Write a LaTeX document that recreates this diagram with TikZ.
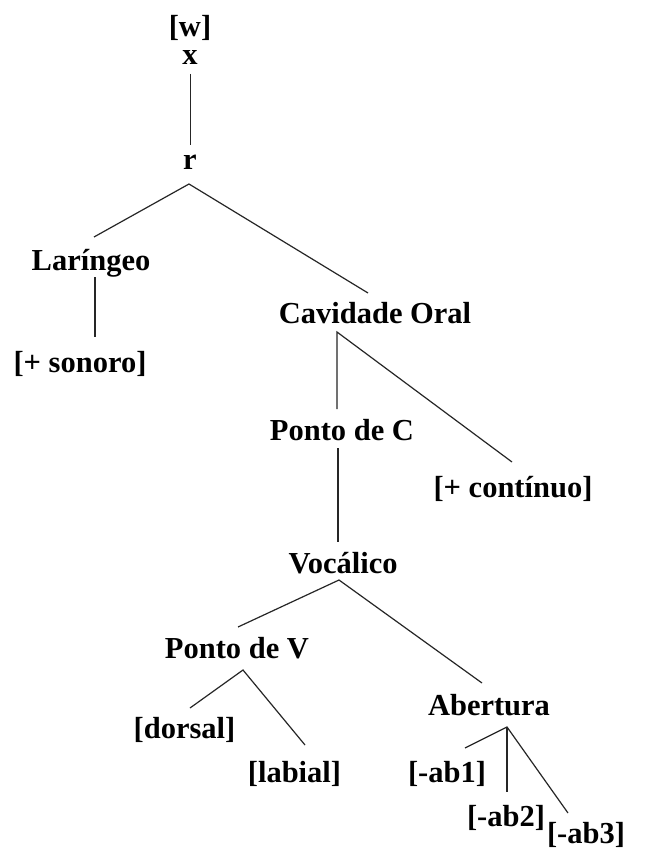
\documentclass[tikz,border=0pt]{standalone}
\usepackage{fontspec}
\setmainfont{Liberation Serif}
\usetikzlibrary{calc}
\tikzset{
  lbl/.style={anchor=base, inner sep=0pt, font=\bfseries\fontsize{30.5}{34}\selectfont},
  edge/.style={line width=1.2pt, black!85}
}
\begin{document}
\begin{tikzpicture}[x=1pt,y=-1pt]
\fill[white] (0,0) rectangle (651,850);
\useasboundingbox (0,0) rectangle (651,850);
\node[lbl] (w) at (190,37) {[w]};
\node[lbl] (x) at (190,65) {x};
\node[lbl] (r) at (190,170) {r};
\node[lbl] (lar) at (91,270) {Laríngeo};
\node[lbl] (son) at (80,372) {[+ sonoro]};
\node[lbl] (cav) at (375,323) {Cavidade Oral};
\node[lbl] (pc) at (342,440) {Ponto de C};
\node[lbl] (cont) at (513,497) {[+ contínuo]};
\node[lbl] (voc) at (343,573) {Vocálico};
\node[lbl] (pv) at (237,658) {Ponto de V};
\node[lbl] (ab) at (489,715) {Abertura};
\node[lbl] (dor) at (184.5,738) {[dorsal]};
\node[lbl] (lab) at (294.5,782) {[labial]};
\node[lbl] (ab1) at (447,782) {[-ab1]};
\node[lbl] (ab2) at (506,826) {[-ab2]};
\node[lbl] (ab3) at (586,843) {[-ab3]};
\draw[edge] ($(x.base)+(0.7,9)$) -- ($(r.base)+(0.7,-25)$);
\draw[edge] ($(lar.base)+(3,-33)$) -- ($(r.base)+(-1,14)$) -- ($(cav.base)+(-7,-30)$);
\draw[edge] ($(lar.base)+(4,7)$) -- ($(son.base)+(15,-35)$);
\draw[edge] ($(pc.base)+(-5,-31)$) -- ($(cav.base)+(-38,9)$) -- ($(cont.base)+(-1,-35)$);
\draw[edge] ($(pc.base)+(-4,8)$) -- ($(voc.base)+(-5,-31)$);
\draw[edge] ($(pv.base)+(1,-31)$) -- ($(voc.base)+(-4,7)$) -- ($(ab.base)+(-7,-32)$);
\draw[edge] ($(dor.base)+(5.5,-30)$) -- ($(pv.base)+(6,12)$) -- ($(lab.base)+(10.5,-37)$);
\draw[edge] ($(ab1.base)+(18,-34)$) -- ($(ab.base)+(18,12)$) -- ($(ab3.base)+(-18,-30)$);
\draw[edge] ($(ab.base)+(18,12)$) -- ($(ab2.base)+(1,-34)$);
\end{tikzpicture}
\end{document}
